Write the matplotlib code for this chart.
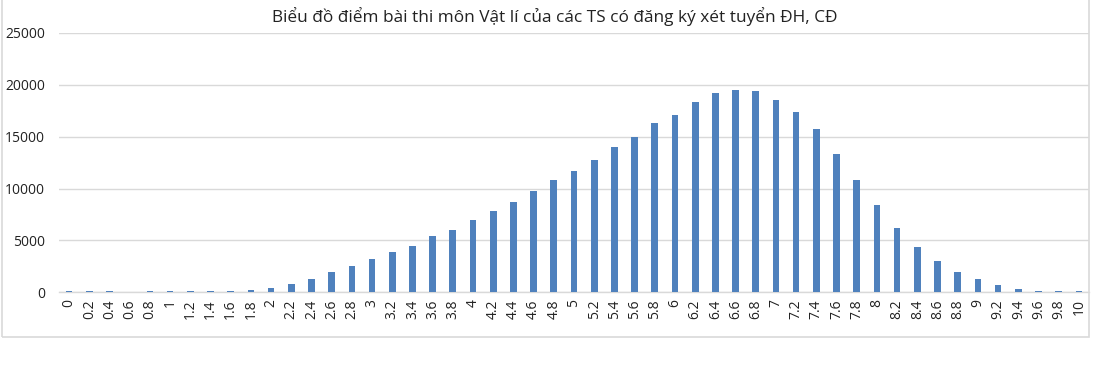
import matplotlib
matplotlib.use('Agg')
from matplotlib import pyplot as plt
from matplotlib.patches import Rectangle
import numpy as np

#%% DATA
# score categories 0 -> 10 step 0.2
scores = ['0', '0.2', '0.4', '0.6', '0.8', '1', '1.2', '1.4', '1.6', '1.8',
          '2', '2.2', '2.4', '2.6', '2.8', '3', '3.2', '3.4', '3.6', '3.8',
          '4', '4.2', '4.4', '4.6', '4.8', '5', '5.2', '5.4', '5.6', '5.8',
          '6', '6.2', '6.4', '6.6', '6.8', '7', '7.2', '7.4', '7.6', '7.8',
          '8', '8.2', '8.4', '8.6', '8.8', '9', '9.2', '9.4', '9.6', '9.8', '10']
# number of candidates per score
counts = [110, 100, 100, 0, 100, 110, 100, 100, 110, 230,
          450, 800, 1320, 1940, 2520, 3200, 3920, 4500, 5460, 6040,
          7010, 7850, 8720, 9750, 10870, 11680, 12800, 14000, 15020, 16280,
          17090, 18340, 19170, 19460, 19400, 18500, 17400, 15760, 13290, 10810,
          8370, 6210, 4370, 3020, 2000, 1260, 670, 300, 110, 100, 110]
y_ticks = [0, 5000, 10000, 15000, 20000, 25000]
title = 'Biểu đồ điểm bài thi môn Vật lí của các TS có đăng ký xét tuyển ĐH, CĐ'

#%% PLOT
plt.rcParams['font.family'] = ['Open Sans', 'DejaVu Sans']
W, H = 1107, 365
fig = plt.figure(figsize=(W / 100, H / 100), dpi=100)
ax = fig.add_axes([59 / W, (H - 292.3) / H, (1089 - 59) / W, (292.3 - 33) / H])

x = np.arange(len(scores))
ax.bar(x, counts, width=0.33, color='#4f81bd', zorder=3)

ax.set_xlim(-0.5, len(scores) - 0.5)
ax.set_ylim(0, 25000)
ax.set_yticks(y_ticks)
ax.set_yticklabels([str(v) for v in y_ticks])
ax.set_xticks(x)
ax.set_xticklabels(scores, rotation=90)

# gridlines + axis look
ax.grid(axis='y', color='#d9d9d9', linewidth=1.0, zorder=0)
for s in ['top', 'right', 'left']:
    ax.spines[s].set_visible(False)
ax.spines['bottom'].set_color('#d9d9d9')
ax.spines['bottom'].set_linewidth(1.0)
ax.tick_params(axis='y', length=0, pad=10, labelsize=10, labelcolor='#222222')
ax.tick_params(axis='x', length=0, pad=5, labelsize=10, labelcolor='#222222')

# title
fig.text(555 / W, 1 - 17 / H, title, ha='center', va='center',
         fontsize=12.4, color='#222222')

# outer chart border
fig.patches.append(Rectangle((2 / W, (H - 337) / H), (1089 - 2) / W, 1.0,
                             transform=fig.transFigure, fill=False,
                             edgecolor='#d9d9d9', linewidth=1.2))

plt.savefig('out.png', dpi=100)
plt.close()
